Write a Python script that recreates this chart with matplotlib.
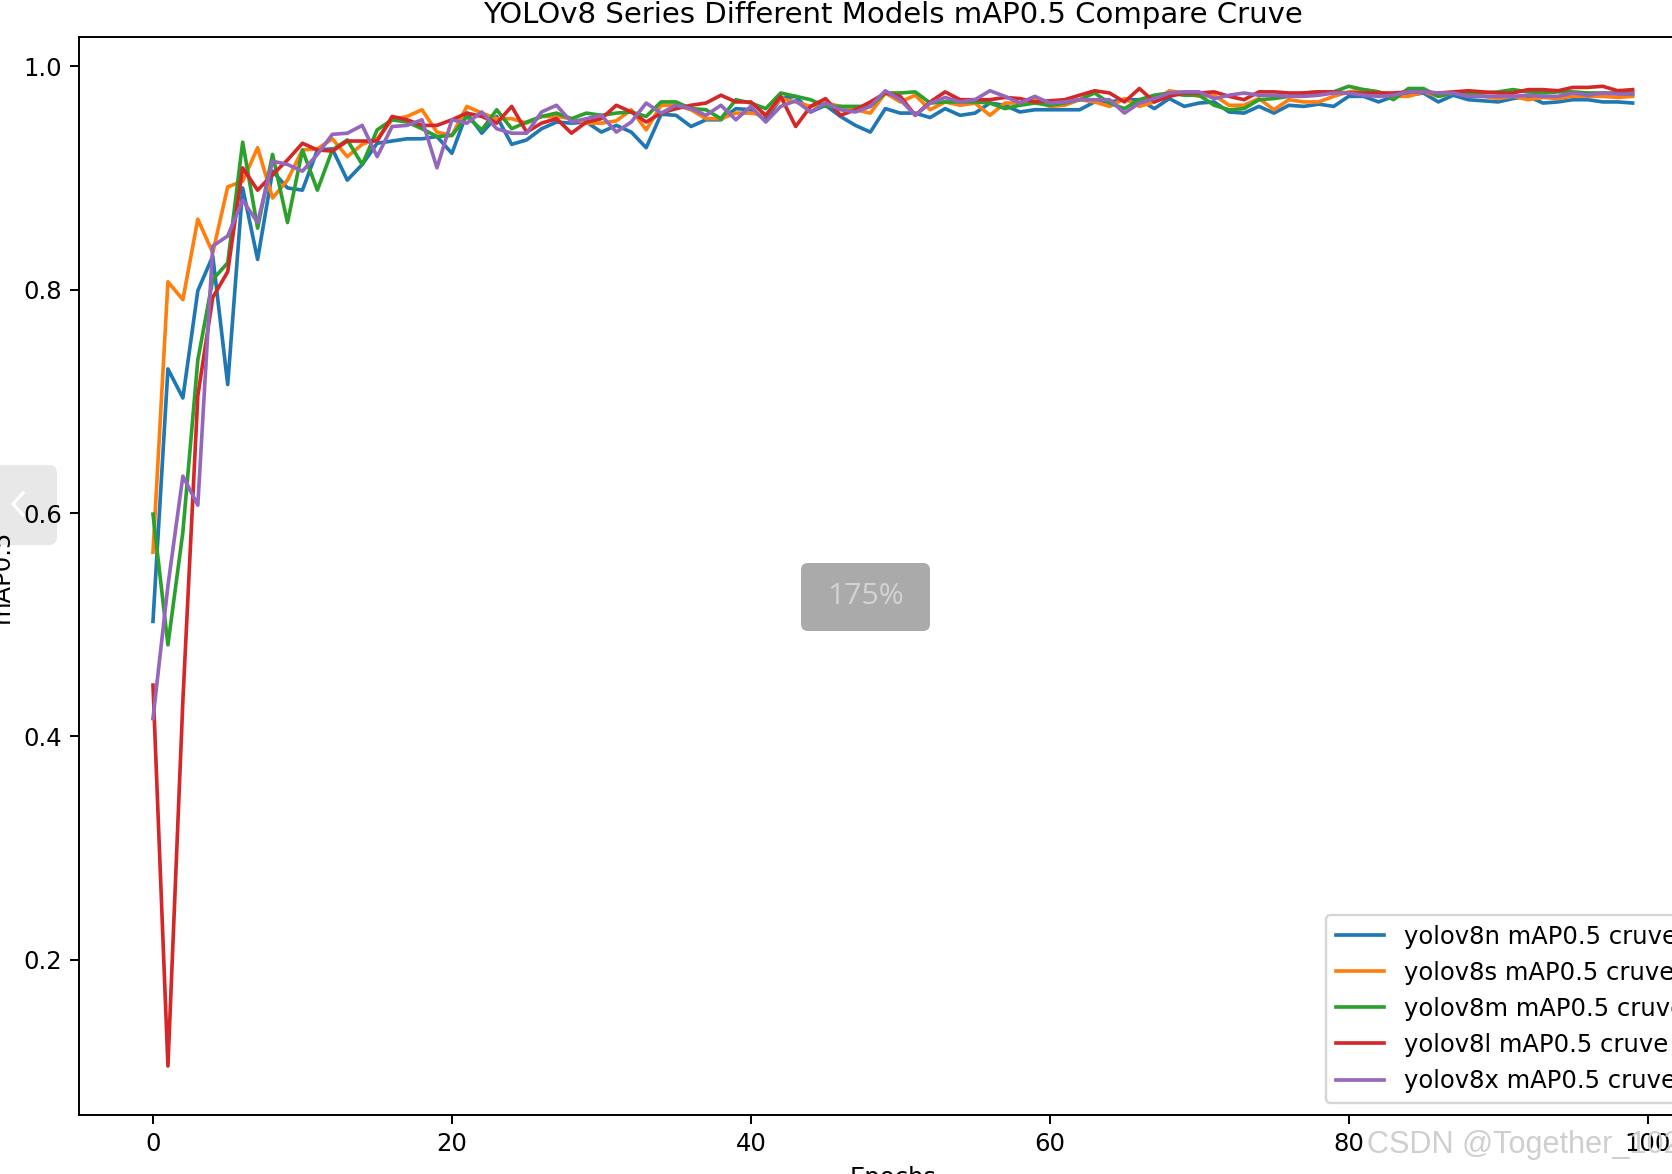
import numpy as np
import matplotlib
matplotlib.use("Agg")
import matplotlib.pyplot as plt
from matplotlib.patches import FancyBboxPatch
from matplotlib.lines import Line2D
from matplotlib.transforms import IdentityTransform

# mAP0.5 per epoch (100 epochs each)
yolov8n = [0.503, 0.729, 0.703, 0.799, 0.830, 0.715, 0.891, 0.827, 0.906, 0.891,
           0.889, 0.925, 0.926, 0.898, 0.912, 0.931, 0.933, 0.935, 0.935, 0.937,
           0.922, 0.958, 0.940, 0.955, 0.930, 0.934, 0.944, 0.950, 0.949, 0.950,
           0.941, 0.947, 0.941, 0.927, 0.957, 0.956, 0.946, 0.952, 0.952, 0.962,
           0.961, 0.952, 0.971, 0.973, 0.959, 0.965, 0.955, 0.947, 0.941, 0.962,
           0.958, 0.958, 0.954, 0.962, 0.956, 0.958, 0.967, 0.965, 0.959, 0.961,
           0.961, 0.961, 0.961, 0.968, 0.968, 0.970, 0.970, 0.962, 0.971, 0.964,
           0.967, 0.968, 0.959, 0.958, 0.964, 0.958, 0.965, 0.964, 0.966, 0.964,
           0.973, 0.973, 0.968, 0.973, 0.974, 0.976, 0.968, 0.974, 0.970, 0.969,
           0.968, 0.971, 0.973, 0.967, 0.968, 0.970, 0.970, 0.968, 0.968, 0.967]
yolov8s = [0.565, 0.807, 0.791, 0.863, 0.833, 0.892, 0.897, 0.927, 0.882, 0.898,
           0.925, 0.926, 0.935, 0.919, 0.930, 0.935, 0.952, 0.955, 0.961, 0.941,
           0.938, 0.964, 0.958, 0.953, 0.953, 0.949, 0.955, 0.955, 0.953, 0.949,
           0.949, 0.951, 0.961, 0.943, 0.965, 0.965, 0.961, 0.953, 0.953, 0.958,
           0.958, 0.956, 0.971, 0.968, 0.964, 0.967, 0.964, 0.961, 0.958, 0.976,
           0.968, 0.974, 0.961, 0.968, 0.965, 0.967, 0.956, 0.967, 0.967, 0.970,
           0.964, 0.965, 0.970, 0.968, 0.964, 0.971, 0.964, 0.968, 0.978, 0.976,
           0.973, 0.974, 0.965, 0.965, 0.971, 0.961, 0.970, 0.968, 0.968, 0.973,
           0.977, 0.979, 0.977, 0.973, 0.973, 0.977, 0.973, 0.976, 0.974, 0.973,
           0.971, 0.973, 0.970, 0.972, 0.971, 0.973, 0.973, 0.973, 0.972, 0.973]
yolov8m = [0.599, 0.482, 0.583, 0.737, 0.809, 0.824, 0.932, 0.855, 0.921, 0.860,
           0.925, 0.889, 0.925, 0.934, 0.912, 0.943, 0.952, 0.950, 0.944, 0.937,
           0.938, 0.955, 0.943, 0.961, 0.944, 0.950, 0.955, 0.958, 0.953, 0.958,
           0.956, 0.958, 0.959, 0.955, 0.968, 0.968, 0.962, 0.961, 0.953, 0.970,
           0.967, 0.962, 0.976, 0.973, 0.970, 0.964, 0.964, 0.964, 0.964, 0.976,
           0.976, 0.977, 0.967, 0.968, 0.968, 0.968, 0.967, 0.962, 0.965, 0.967,
           0.965, 0.967, 0.970, 0.976, 0.967, 0.962, 0.970, 0.974, 0.976, 0.974,
           0.974, 0.965, 0.961, 0.962, 0.970, 0.971, 0.973, 0.976, 0.977, 0.977,
           0.982, 0.979, 0.977, 0.970, 0.980, 0.980, 0.973, 0.976, 0.976, 0.976,
           0.977, 0.979, 0.977, 0.976, 0.977, 0.977, 0.976, 0.976, 0.976, 0.976]
yolov8l = [0.446, 0.105, 0.432, 0.705, 0.793, 0.816, 0.909, 0.889, 0.903, 0.916,
           0.931, 0.925, 0.924, 0.933, 0.933, 0.933, 0.955, 0.952, 0.947, 0.947,
           0.952, 0.958, 0.955, 0.949, 0.964, 0.941, 0.949, 0.953, 0.940, 0.950,
           0.953, 0.965, 0.959, 0.950, 0.958, 0.962, 0.965, 0.967, 0.974, 0.968,
           0.968, 0.956, 0.973, 0.946, 0.964, 0.971, 0.956, 0.961, 0.968, 0.976,
           0.973, 0.956, 0.968, 0.977, 0.970, 0.970, 0.970, 0.972, 0.971, 0.968,
           0.969, 0.970, 0.974, 0.978, 0.976, 0.968, 0.980, 0.968, 0.973, 0.976,
           0.976, 0.977, 0.973, 0.970, 0.977, 0.977, 0.976, 0.976, 0.977, 0.977,
           0.976, 0.976, 0.976, 0.976, 0.977, 0.977, 0.976, 0.977, 0.978, 0.977,
           0.976, 0.976, 0.979, 0.979, 0.978, 0.981, 0.981, 0.982, 0.978, 0.979]
yolov8x = [0.416, 0.535, 0.633, 0.607, 0.839, 0.848, 0.880, 0.860, 0.915, 0.912,
           0.906, 0.921, 0.939, 0.940, 0.947, 0.919, 0.946, 0.947, 0.952, 0.909,
           0.952, 0.949, 0.959, 0.944, 0.940, 0.940, 0.959, 0.965, 0.950, 0.953,
           0.956, 0.941, 0.950, 0.967, 0.958, 0.965, 0.962, 0.956, 0.965, 0.952,
           0.964, 0.950, 0.964, 0.969, 0.959, 0.967, 0.961, 0.959, 0.964, 0.978,
           0.970, 0.956, 0.967, 0.972, 0.968, 0.970, 0.978, 0.973, 0.967, 0.973,
           0.967, 0.968, 0.970, 0.970, 0.970, 0.958, 0.967, 0.971, 0.976, 0.977,
           0.977, 0.971, 0.974, 0.976, 0.974, 0.974, 0.973, 0.973, 0.974, 0.976,
           0.976, 0.974, 0.973, 0.974, 0.977, 0.977, 0.976, 0.976, 0.973, 0.973,
           0.973, 0.973, 0.974, 0.973, 0.973, 0.976, 0.974, 0.976, 0.975, 0.975]

models = ["yolov8n", "yolov8s", "yolov8m", "yolov8l", "yolov8x"]
series = [yolov8n, yolov8s, yolov8m, yolov8l, yolov8x]
epochs = np.arange(len(yolov8n))

W, H, DPI = 1672, 1174, 175
fig = plt.figure(figsize=(W / DPI, H / DPI), dpi=DPI)

# screenshot is a zoomed crop, so the axes run past the right edge
ax_left, ax_top, ax_w, ax_h = 79, 37.3, 1627.6, 1077.7
ax = fig.add_axes([ax_left / W, (H - ax_top - ax_h) / H, ax_w / W, ax_h / H])

for name, vals in zip(models, series):
    ax.plot(epochs, vals, label=name + " mAP0.5 cruve")

ax.set_title("YOLOv8 Series Different Models mAP0.5 Compare Cruve")
ax.set_xlabel("Epochs")
ax.set_ylabel("mAP0.5")
ax.legend(loc="lower right")

# viewer overlays seen in the screenshot
px = IdentityTransform()
btn = FancyBboxPatch((-20, H - 545 + 8), 69, 80 - 16, boxstyle="round,pad=8",
                     facecolor="black", alpha=0.09, edgecolor="none", transform=px)
fig.add_artist(btn)
fig.add_artist(Line2D([23, 13, 23], [H - 493, H - 504, H - 515], color="white",
                      lw=1.3, transform=px))

zoom_box = FancyBboxPatch((801 + 7, H - 631 + 7), 129 - 14, 68 - 14,
                          boxstyle="round,pad=7", facecolor="#a9aaa9",
                          edgecolor="none", transform=px, zorder=5)
fig.add_artist(zoom_box)
fig.text(866, H - 597, "175%", transform=px, ha="center", va="center",
         fontsize=12.4, color="#d3d3d3", family="Open Sans", zorder=6)

fig.text(1367, H - 1153, "CSDN @Together_102", transform=px, ha="left",
         va="baseline", fontsize=12.6, color="#cfcfcf", family="Liberation Sans",
         zorder=6)

fig.savefig("out.png", dpi=DPI)
